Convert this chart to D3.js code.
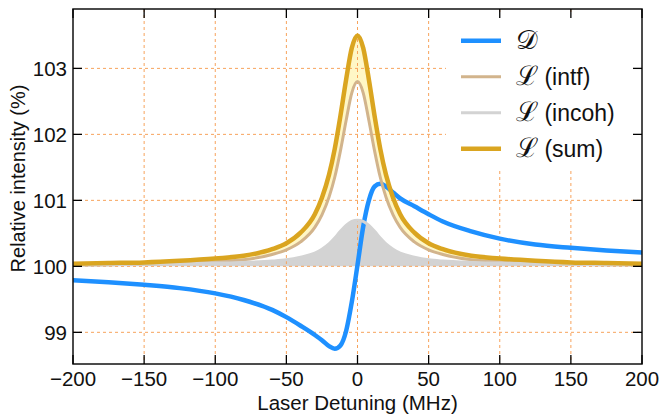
<!DOCTYPE html>
<html><head><meta charset="utf-8">
<script src="https://cdn.jsdelivr.net/npm/d3@7"></script>
<style>
body{margin:0;background:#fff}
text{font-family:"Liberation Sans",Arial,Helvetica,sans-serif;fill:#111}
</style>
</head><body>
<svg id="c" width="661" height="414"></svg>
<script>
// ---- data ----
const detuning = [-200,-175,-150,-125,-100,-80,-60,-50,-40,-30,-25,-20,-16,-12,-8,-4,0,4,8,12,16,20,25,30,40,50,60,80,100,125,150,175,200];
const dispersion = [99.79,99.76,99.72,99.67,99.59,99.49,99.34,99.23,99.10,98.96,98.88,98.79,98.75,98.80,99.02,99.46,100.02,100.60,101.00,101.21,101.25,101.21,101.12,101.03,100.91,100.79,100.68,100.53,100.42,100.33,100.28,100.24,100.21];
const lorIntf = [100.02,100.025,100.03,100.045,100.07,100.10,100.18,100.25,100.37,100.59,100.78,101.05,101.35,101.75,102.21,102.63,102.80,102.63,102.21,101.75,101.35,101.05,100.78,100.59,100.37,100.25,100.18,100.10,100.07,100.045,100.03,100.025,100.02];
const lorIncoh = [100.02,100.025,100.03,100.04,100.05,100.06,100.08,100.10,100.14,100.20,100.26,100.34,100.43,100.53,100.62,100.68,100.70,100.68,100.62,100.53,100.43,100.34,100.26,100.20,100.14,100.10,100.08,100.06,100.05,100.04,100.03,100.025,100.02];
const lorSum = [100.04,100.05,100.06,100.085,100.12,100.16,100.26,100.35,100.51,100.79,101.04,101.39,101.78,102.28,102.83,103.31,103.50,103.31,102.83,102.28,101.78,101.39,101.04,100.79,100.51,100.35,100.26,100.16,100.12,100.085,100.06,100.05,100.04];
const xTicks = [-200,-150,-100,-50,0,50,100,150,200];
const yTicks = [99,100,101,102,103];
const xDomain = [-200,200];
const yDomain = [98.52,103.9];
const legendSymbols = ["\uD835\uDC9F","\u2112","\u2112","\u2112"];
const legendLabels = [""," (intf)"," (incoh)"," (sum)"];
const xLabel = "Laser Detuning (MHz)";
const yLabel = "Relative intensity (%)";

// ---- layout ----
const L=73, R=642, T=9, B=364;
const svg = d3.select("#c");
const x = d3.scaleLinear().domain(xDomain).range([L,R]);
const y = d3.scaleLinear().domain(yDomain).range([B,T]);

svg.append("defs").append("clipPath").attr("id","clip")
  .append("rect").attr("x",L).attr("y",T).attr("width",R-L).attr("height",B-T);

const pts = (arr)=>detuning.map((d,i)=>[d,arr[i]]);
const curve = d3.curveMonotoneX;
const plot = svg.append("g").attr("clip-path","url(#clip)");

// fills
plot.append("path")
  .attr("d", d3.area().x(d=>x(d[0])).y0(y(100)).y1(d=>y(d[1])).curve(curve)(pts(lorIncoh)))
  .attr("fill","#d3d3d3");
plot.append("path")
  .attr("d", d3.area().x((d,i)=>x(detuning[i])).y0((d,i)=>y(lorIntf[i])).y1((d,i)=>y(lorSum[i])).curve(curve)(detuning))
  .attr("fill","#fff7c6");

// grid
const gridColor="#f7a35c";
plot.append("g").selectAll("line").data(xTicks.slice(1,-1)).join("line")
  .attr("x1",d=>x(d)).attr("x2",d=>x(d)).attr("y1",T).attr("y2",B)
  .attr("stroke",gridColor).attr("stroke-width",1).attr("stroke-dasharray","3,3");
plot.append("g").selectAll("line").data(yTicks).join("line")
  .attr("y1",d=>y(d)).attr("y2",d=>y(d)).attr("x1",L).attr("x2",R)
  .attr("stroke",gridColor).attr("stroke-width",1).attr("stroke-dasharray","3,3");

// lines
const line = d3.line().x(d=>x(d[0])).y(d=>y(d[1])).curve(curve);
const series = [
  {data:dispersion,color:"#1e90ff",w:4.5},
  {data:lorIntf,color:"#d2b48c",w:3},
  {data:lorIncoh,color:"#d3d3d3",w:3},
  {data:lorSum,color:"#daa520",w:4.5}
];
series.forEach(s=>{
  plot.append("path").attr("d",line(pts(s.data)))
    .attr("fill","none").attr("stroke",s.color).attr("stroke-width",s.w)
    .attr("stroke-linejoin","round").attr("stroke-linecap","round");
});

// legend
const lg = svg.append("g");
lg.append("rect").attr("x",446).attr("y",13).attr("width",R-446-1).attr("height",158).attr("fill","#fff");
series.forEach((s,i)=>{
  const cy = 40.7 + i*36;
  lg.append("line").attr("x1",461).attr("x2",501).attr("y1",cy).attr("y2",cy)
    .attr("stroke",s.color).attr("stroke-width",s.w);
  const t = lg.append("text").attr("x",516).attr("y",cy+8).attr("font-size",23);
  t.append("tspan").text(legendSymbols[i]).attr("font-family","DejaVu Serif, serif").attr("font-size",27);
  t.append("tspan").text(legendLabels[i]);
});

// axes
const tickLen=9;
const ax = svg.append("g").attr("stroke","#000");
ax.append("rect").attr("x",L).attr("y",T).attr("width",R-L).attr("height",B-T)
  .attr("fill","none").attr("stroke","#111").attr("stroke-width",1.5);
ax.selectAll(null).data(xTicks).join("line")
  .attr("x1",d=>x(d)).attr("x2",d=>x(d)).attr("y1",B).attr("y2",B-tickLen).attr("stroke-width",1.3);
ax.selectAll(null).data(xTicks).join("line")
  .attr("x1",d=>x(d)).attr("x2",d=>x(d)).attr("y1",T).attr("y2",T+tickLen).attr("stroke-width",1.3);
ax.selectAll(null).data(yTicks).join("line")
  .attr("y1",d=>y(d)).attr("y2",d=>y(d)).attr("x1",L).attr("x2",L+tickLen).attr("stroke-width",1.3);
ax.selectAll(null).data(yTicks).join("line")
  .attr("y1",d=>y(d)).attr("y2",d=>y(d)).attr("x1",R).attr("x2",R-tickLen).attr("stroke-width",1.3);

svg.append("g").selectAll("text").data(xTicks).join("text")
  .attr("x",d=>x(d)).attr("y",386).attr("text-anchor","middle").attr("font-size",20.5)
  .text(d=>d3.format("")(d).replace("-","\u2212"));
svg.append("g").selectAll("text").data(yTicks).join("text")
  .attr("x",67).attr("y",d=>y(d)+7.5).attr("text-anchor","end").attr("font-size",20.5)
  .text(d=>d);

svg.append("text").attr("x",(L+R)/2).attr("y",410).attr("text-anchor","middle").attr("font-size",20.5).text(xLabel);
svg.append("text").attr("transform",`translate(25,${(T+B)/2-8}) rotate(-90)`)
  .attr("text-anchor","middle").attr("font-size",20).text(yLabel);
</script>
</body></html>
